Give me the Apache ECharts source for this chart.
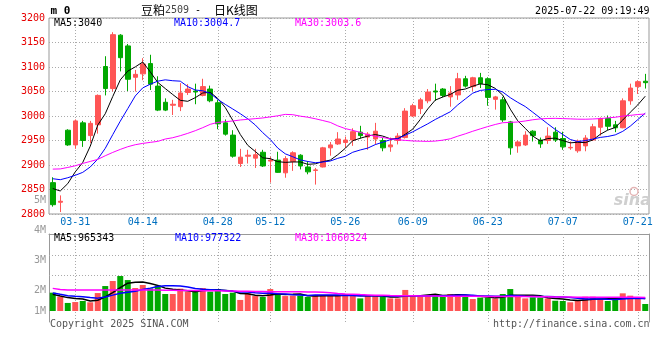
<!DOCTYPE html>
<html><head><meta charset="utf-8">
<script src="https://cdn.jsdelivr.net/npm/echarts@6/dist/echarts.min.js"></script>
<style>html,body{margin:0;padding:0;background:#fff}#c{width:660px;height:360px}</style>
</head><body><div id="c"></div>
<script>
// ---------- data ----------
const dates = ['03-26','03-27','03-28','03-31','04-01','04-02','04-03','04-07','04-08','04-09',
'04-10','04-11','04-14','04-15','04-16','04-17','04-18','04-21','04-22','04-23',
'04-24','04-25','04-28','04-29','04-30','05-06','05-07','05-08','05-09','05-12',
'05-13','05-14','05-15','05-16','05-19','05-20','05-21','05-22','05-23','05-26',
'05-27','05-28','05-29','05-30','06-03','06-04','06-05','06-06','06-09','06-10',
'06-11','06-12','06-13','06-16','06-17','06-18','06-19','06-20','06-23','06-24',
'06-25','06-26','06-27','06-30','07-01','07-02','07-03','07-04','07-07','07-08',
'07-09','07-10','07-11','07-14','07-15','07-16','07-17','07-18','07-21','07-22'];
const tickDates = ['03-31','04-14','04-28','05-12','05-26','06-09','06-23','07-07','07-21'];

const opens = [2864,2824,2971,2941,2986,2960,2982,3101,3056,3165,3143,3079,3086,3107,3061,3028,3022,3019,3048,3051,
3042,3055,3027,2986,2961,2903,2918,2914,2926,2908,2910,2884,2907,2920,2896,2889,2896,2935,2943,2946,
2951,2967,2957,2953,2950,2937,2950,2956,3000,3015,3031,3051,3055,3039,3043,3076,3060,3078,3076,3034,
3033,2988,2939,2941,2969,2951,2950,2967,2954,2935,2929,2939,2951,2977,2995,2982,2976,3031,3060,3071];
const closes = [2819,2826,2941,2990,2950,2985,3042,3056,3166,3119,3075,3085,3106,3065,3012,3012,3024,3047,3055,3049,
3060,3031,2984,2963,2918,2916,2920,2921,2898,2910,2885,2913,2925,2898,2886,2890,2935,2941,2953,2951,
2968,2960,2963,2969,2935,2941,2959,3010,3021,3033,3049,3049,3042,3047,3076,3061,3078,3066,3038,3039,
2992,2935,2947,2961,2960,2943,2959,2951,2937,2936,2949,2955,2978,2995,2979,2976,3031,3057,3070,3068];
const lows = [2815,2804,2939,2933,2937,2945,2964,3042,3050,3091,3051,3050,3073,3053,3010,3010,3002,3010,3043,3024,
3040,3028,2973,2960,2915,2896,2903,2894,2896,2864,2884,2874,2888,2891,2881,2860,2895,2919,2941,2935,
2939,2954,2931,2942,2928,2927,2942,2954,2998,3004,3026,3031,3038,3019,3033,3058,3051,3057,3021,3013,
2988,2921,2925,2939,2948,2935,2943,2947,2931,2931,2925,2928,2949,2960,2971,2967,2975,3023,3045,3056];
const highs = [2875,2838,2973,2993,2990,2990,3044,3122,3171,3167,3147,3094,3118,3125,3081,3036,3033,3067,3065,3066,
3076,3062,3033,2993,2971,2933,2931,2933,2931,2917,2927,2918,2928,2922,2908,2894,2937,2947,2967,2958,
2975,2980,2967,2986,2955,2956,2965,3016,3025,3037,3055,3066,3057,3061,3088,3082,3080,3088,3079,3041,
3039,2990,2950,2969,2971,2956,2977,2977,2968,2948,2952,2961,2984,2997,3001,2990,3036,3066,3073,3086];

const ma5 = [2852,2847,2862,2886,2905.2,2938.4,2981.6,3004.6,3039.8,3073.6,3091.6,3100.2,3110.2,3090,3068.6,3056,3043.8,3032,3030,3037.4,
3047,3048.4,3035.8,3017.4,2991.2,2962.4,2940.2,2927.6,2914.6,2913,2906.8,2905.4,2906.2,2906.2,2901.4,2902.4,2906.8,2910,2921,2934,
2949.6,2954.6,2959,2962.2,2959,2953.6,2953.4,2962.8,2973.2,2992.8,3014.4,3032.4,3038.8,3044,3052.6,3055,3060.8,3065.6,3063.8,3056.4,
3042.6,3014,2990.2,2974.8,2959,2949.2,2954,2954.8,2950,2945.2,2946.4,2945.6,2951,2962.6,2971.2,2976.6,2991.8,3007.6,3022.6,3040.4];
const ma10 = [2872,2870,2874,2879,2885,2896,2912,2934,2962,2989.4,3015,3040.9,3057.4,3064.9,3071.1,3073.8,3072,3071.1,3060,3053,
3051.5,3046.1,3033.9,3023.7,3014.3,3004.7,2994.3,2981.7,2966,2952.1,2934.6,2922.8,2916.9,2910.4,2907.2,2904.6,2906.1,2908.1,2913.6,2917.7,
2926,2930.7,2934.5,2941.6,2946.5,2951.6,2954,2960.9,2967.7,2975.9,2984,2992.9,3000.8,3008.6,3022.7,3034.7,3046.6,3052.2,3053.9,3054.5,
3048.8,3037.4,3027.9,3019.3,3007.7,2995.9,2984,2972.5,2962.4,2952.1,2947.8,2949.8,2952.9,2956.3,2958.2,2961.5,2968.7,2979.3,2992.6,3005.8];
const ma30 = [2891.6,2892,2895,2898.4,2903.2,2907.3,2911.4,2918.9,2925.7,2931.8,2937.3,2941.4,2944.1,2946.2,2948.2,2953,2955.7,2959.8,2964.6,2970,
2976.2,2983,2987,2988.4,2989.8,2991.9,2993.2,2994.6,2996,2998.2,3000.4,3003.3,3002.7,2999.7,2997.5,2994.4,2990.8,2987,2979.9,2974.3,
2970.7,2966.5,2961.8,2958.6,2956,2953.6,2951.5,2950.2,2949.1,2948.6,2948.2,2948.8,2950.7,2953.5,2958.8,2963.6,2968.9,2973.7,2978.4,2982.7,
2986.3,2987,2987.7,2989.8,2992.3,2994.1,2994.9,2995.2,2994.7,2994.2,2993.5,2993.4,2993.9,2994.7,2996.2,2997.4,2999.8,3001.3,3003,3004.1];

// volumes in millions
const volumes = [1.41,1.10,0.62,0.69,0.77,0.67,1.38,1.92,2.31,2.69,2.38,1.77,2.00,1.74,1.97,1.31,1.31,1.72,1.49,1.59,
1.77,1.49,1.69,1.31,1.41,0.85,1.36,1.15,1.08,1.69,1.28,1.15,1.18,1.18,1.08,1.23,1.23,1.15,1.15,1.28,
1.28,0.97,1.23,1.15,1.10,0.97,0.97,1.62,1.18,1.15,1.23,1.23,1.18,1.31,1.31,1.10,0.92,1.03,1.03,0.97,
1.31,1.69,1.10,0.97,1.05,1.03,0.97,0.79,0.77,0.67,0.85,1.10,1.10,0.92,0.77,0.85,1.36,1.18,0.92,0.54];
const volMa5 = [1.28,1.15,1.03,0.96,0.92,0.77,0.83,1.09,1.41,1.79,2.14,2.21,2.23,2.12,1.97,1.76,1.67,1.61,1.56,1.48,
1.58,1.61,1.61,1.57,1.53,1.35,1.32,1.22,1.17,1.23,1.31,1.27,1.28,1.30,1.17,1.16,1.18,1.17,1.17,1.21,
1.22,1.17,1.18,1.18,1.15,1.08,1.08,1.16,1.17,1.18,1.23,1.28,1.19,1.22,1.25,1.23,1.16,1.13,1.08,1.01,
1.05,1.21,1.22,1.21,1.22,1.17,1.02,0.96,0.92,0.85,0.81,0.84,0.90,0.93,0.95,0.95,1.00,1.02,1.02,0.97];
const volMa10 = [1.39,1.28,1.18,1.13,1.10,1.03,0.99,1.08,1.22,1.36,1.45,1.52,1.66,1.76,1.88,1.95,1.94,1.92,1.84,1.73,
1.67,1.64,1.61,1.57,1.51,1.46,1.47,1.41,1.37,1.38,1.33,1.30,1.25,1.23,1.20,1.24,1.23,1.23,1.23,1.19,
1.19,1.17,1.18,1.18,1.18,1.15,1.13,1.17,1.18,1.16,1.16,1.18,1.18,1.19,1.22,1.23,1.22,1.16,1.15,1.13,
1.14,1.19,1.18,1.14,1.12,1.11,1.12,1.09,1.07,1.04,0.99,0.93,0.93,0.93,0.90,0.88,0.92,0.96,0.97,0.96];
const volMa30 = [1.74,1.66,1.62,1.62,1.62,1.62,1.62,1.62,1.62,1.62,1.62,1.62,1.62,1.62,1.61,1.60,1.59,1.58,1.58,1.57,
1.56,1.55,1.55,1.54,1.53,1.52,1.51,1.50,1.50,1.49,1.48,1.48,1.48,1.48,1.47,1.46,1.44,1.41,1.35,1.31,
1.29,1.26,1.24,1.22,1.21,1.19,1.18,1.18,1.17,1.16,1.15,1.15,1.14,1.14,1.14,1.14,1.13,1.13,1.12,1.11,
1.11,1.12,1.12,1.11,1.11,1.10,1.09,1.08,1.08,1.07,1.06,1.06,1.06,1.05,1.05,1.05,1.06,1.05,1.05,1.04];

const priceMin = 2800, priceMax = 3200, priceStep = 50;
const volAxisLabels = ['5M','4M','3M','2M','1M'];
const mainLegend = ['MA5:3040','MA10:3004.7','MA30:3003.6'];
const volLegend = ['MA5:965343','MA10:977322','MA30:1060324'];
const titleParts = ['豆粕','2509',' - ','日K线图'];
const stamp = '2025-07-22 09:19:49';

// ---------- chart ----------
const RED = '#ff5555', GREEN = '#00a800';
const LINE_COLORS = ['#000000','#0000ff','#ff00ff'];
const MONO = '"DejaVu Sans Mono", monospace';
const GRID_LINE = {color:'#aaaaaa', type:[1,2], width:1};

const chart = echarts.init(document.getElementById('c'), null, {renderer:'canvas', width:660, height:360});
const candleData = dates.map((d,i)=>[opens[i], closes[i], lows[i], highs[i]]);

function txt(text, x, y, extra){
  return {type:'text', x:x, y:y, silent:true, z:100,
    style:Object.assign({text:text, font:'10px '+MONO, fill:'#000', textAlign:'left', textVerticalAlign:'middle'}, extra||{})};
}
const vMarks = tickDates.map(d=>({xAxis:d}));
function maLine(name, data, xi, yi, color, w){
  return {type:'line', name:name, xAxisIndex:xi, yAxisIndex:yi, data:data, symbol:'none', z:3,
    lineStyle:{color:color, width:w}, itemStyle:{color:color}, silent:true};
}

const graphics = [
  txt('m 0', 50.5, 11.5, {font:'bold 11px '+MONO}),
  txt(titleParts[0], 141, 10, {font:'12px "Noto Sans CJK SC"'}),
  txt(titleParts[1], 165, 10.5, {fill:'#444'}),
  txt(titleParts[2], 189, 10.5, {}),
  txt(titleParts[3], 214, 10, {font:'12px "Noto Sans CJK SC"'}),
  txt(stamp, 649.5, 11.5, {textAlign:'right'}),
  txt(mainLegend[0], 54, 23.5, {fill:LINE_COLORS[0]}),
  txt(mainLegend[1], 174, 23.5, {fill:LINE_COLORS[1]}),
  txt(mainLegend[2], 295, 23.5, {fill:LINE_COLORS[2]}),
  txt(volLegend[0], 54, 238.5, {fill:LINE_COLORS[0]}),
  txt(volLegend[1], 175, 238.5, {fill:LINE_COLORS[1]}),
  txt(volLegend[2], 295, 238.5, {fill:LINE_COLORS[2]}),
  txt(volAxisLabels[0], 46, 200.5, {textAlign:'right', fill:'#999'}),
  txt(volAxisLabels[1], 46, 230, {textAlign:'right', fill:'#999'}),
  txt(volAxisLabels[2], 46, 260.7, {textAlign:'right', fill:'#999'}),
  txt(volAxisLabels[3], 46, 290.7, {textAlign:'right', fill:'#999'}),
  txt(volAxisLabels[4], 46, 311, {textAlign:'right', fill:'#999'}),
  txt('Copyright 2025 SINA.COM', 50, 324.5, {fill:'#555'}),
  txt('http://finance.sina.com.cn', 649.5, 324.5, {textAlign:'right', fill:'#555'}),
  {type:'circle', silent:true, z:90, shape:{cx:634, cy:191.5, r:4}, style:{fill:'none', stroke:'#e4b5b5', lineWidth:1.5}},
  txt('sina', 651, 201, {textAlign:'right', font:'italic bold 16px "DejaVu Sans"', fill:'#cfcfcf'})
];

const option = {
  animation:false,
  backgroundColor:'#ffffff',
  grid:[
    {left:49, top:18, width:600, height:196, show:true, borderColor:'#999', borderWidth:1, backgroundColor:'transparent'},
    {left:49, top:234, width:600, height:88, show:false}
  ],
  xAxis:[
    {type:'category', gridIndex:0, data:dates, boundaryGap:true,
     axisLine:{show:false}, axisTick:{show:false}, splitLine:{show:false},
     axisLabel:{interval:(i,v)=>tickDates.includes(v), color:'#0070c0', fontFamily:MONO, fontSize:10, margin:3, hideOverlap:false}},
    {type:'category', gridIndex:1, data:dates, boundaryGap:true, position:'top',
     axisLine:{show:true, onZero:false, lineStyle:{color:'#999'}}, axisTick:{show:false}, axisLabel:{show:false}, splitLine:{show:false}}
  ],
  yAxis:[
    {type:'value', gridIndex:0, min:priceMin, max:priceMax, interval:priceStep,
     axisLine:{show:false}, axisTick:{show:false},
     axisLabel:{color:'#e60000', fontFamily:MONO, fontSize:10, margin:4, formatter:v=>String(v)},
     splitLine:{show:true, lineStyle:GRID_LINE}},
    {type:'value', gridIndex:1, min:-0.846, max:5.923,
     axisLine:{show:true, onZero:false, lineStyle:{color:'#999'}}, axisTick:{show:false}, axisLabel:{show:false}, splitLine:{show:false}},
    {type:'value', gridIndex:1, position:'right', min:0, max:1,
     axisLine:{show:true, onZero:false, lineStyle:{color:'#999'}}, axisTick:{show:false}, axisLabel:{show:false}, splitLine:{show:false}}
  ],
  series:[
    {type:'candlestick', xAxisIndex:0, yAxisIndex:0, data:candleData, barWidth:5, z:2,
     itemStyle:{color:RED, color0:GREEN, borderColor:RED, borderColor0:GREEN, borderWidth:1},
     markLine:{silent:true, z:1, symbol:['none','none'], label:{show:false}, lineStyle:GRID_LINE,
       emphasis:{disabled:true}, animation:false, data:vMarks}},
    maLine('MA5', ma5, 0, 0, LINE_COLORS[0], 1),
    maLine('MA10', ma10, 0, 0, LINE_COLORS[1], 1),
    maLine('MA30', ma30, 0, 0, LINE_COLORS[2], 1),
    {type:'bar', xAxisIndex:1, yAxisIndex:1, data:volumes, barWidth:6, z:2,
     itemStyle:{color:p=>closes[p.dataIndex]>=opens[p.dataIndex]?RED:GREEN},
     markLine:{silent:true, z:1, symbol:['none','none'], label:{show:false}, lineStyle:GRID_LINE,
       emphasis:{disabled:true}, animation:false,
       data:vMarks.concat([{yAxis:4.308},{yAxis:2.769}])}},
    maLine('VMA5', volMa5, 1, 1, LINE_COLORS[0], 1.5),
    maLine('VMA10', volMa10, 1, 1, LINE_COLORS[1], 1.5),
    maLine('VMA30', volMa30, 1, 1, LINE_COLORS[2], 1.5)
  ],
  graphic:graphics
};
chart.setOption(option);
</script>
</body></html>
